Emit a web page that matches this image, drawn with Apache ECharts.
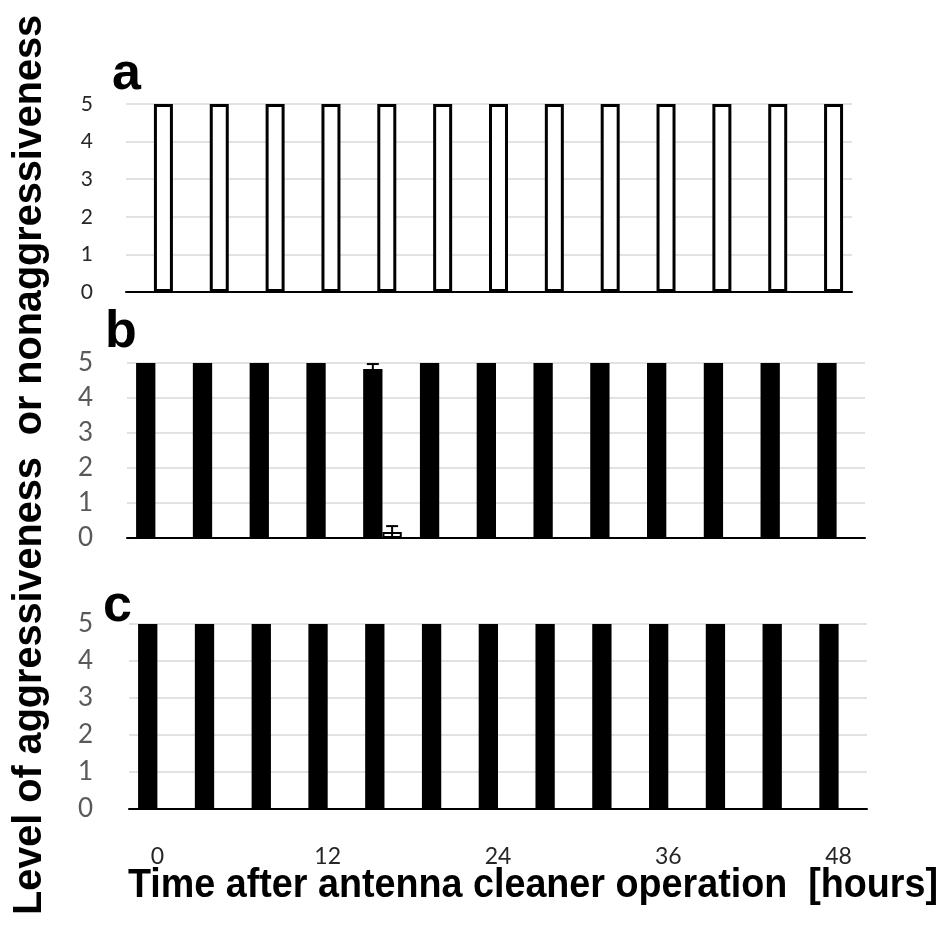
<!DOCTYPE html>
<html>
<head>
<meta charset="utf-8">
<script src="https://cdn.jsdelivr.net/npm/echarts@6/dist/echarts.min.js"></script>
<style>
html,body{margin:0;padding:0;background:#fff;}
#main{width:943px;height:928px;}
</style>
</head>
<body>
<div id="main"></div>
<script>
// ---- data ----
const categories = ['0','4','8','12','16','20','24','28','32','36','40','44','48'];
const xTickLabels = ['0','12','24','36','48'];
const yTicks = [0,1,2,3,4,5];
const panelLetters = ['a','b','c'];

const aAggressive    = [0,0,0,0,0,0,0,0,0,0,0,0,0];
const aNonaggressive = [5,5,5,5,5,5,5,5,5,5,5,5,5];

const bAggressive       = [5,5,5,5,4.83,5,5,5,5,5,5,5,5];
const bAggressiveErr    = [0,0,0,0,0.14,0,0,0,0,0,0,0,0];
const bNonaggressive    = [0,0,0,0,0.17,0,0,0,0,0,0,0,0];
const bNonaggressiveErr = [0,0,0,0,0.17,0,0,0,0,0,0,0,0];

const cAggressive    = [5,5,5,5,5,5,5,5,5,5,5,5,5];
const cNonaggressive = [0,0,0,0,0,0,0,0,0,0,0,0,0];

const xTitle = 'Time after antenna cleaner operation  [hours]';
const yTitle = 'Level of aggressiveness  or nonaggressiveness';

// ---- chart ----
const chart = echarts.init(document.getElementById('main'), null, {renderer:'canvas'});

function fitScale(text, font, target){
  const ctx = document.createElement('canvas').getContext('2d');
  ctx.font = font;
  return target / ctx.measureText(text).width;
}
const titleFont = 'bold 40px "Liberation Sans", Arial, sans-serif';
const xScale = fitScale(xTitle, titleFont, 810);
const yScale = fitScale(yTitle, titleFont, 900);

const grids = [
  {left:126, right:91, top:104, height:188},
  {left:127, right:78, top:363, height:175},
  {left:129, right:76, top:624, height:185}
].map(g => Object.assign({outerBoundsMode:'none', containLabel:false}, g));

const yLabelStyles = [
  {fontSize:21, color:'#262626', margin:33},
  {fontSize:26, color:'#595959', margin:34},
  {fontSize:26, color:'#595959', margin:36}
];

const xAxes = grids.map((g,i)=>({
  gridIndex:i, type:'category', data:categories,
  axisLine:{show:true, lineStyle:{color:'#000', width:2}},
  axisTick:{show:false},
  splitLine:{show:false},
  axisLabel:{
    show: i===2, interval:0, margin:36,
    fontFamily:'Lato', fontSize:23, color:'#262626',
    formatter: v => xTickLabels.indexOf(v) >= 0 ? v : ''
  }
}));

const yAxes = grids.map((g,i)=>({
  gridIndex:i, type:'value',
  min:yTicks[0], max:yTicks[yTicks.length-1], interval:yTicks[1]-yTicks[0],
  axisLine:{show:false}, axisTick:{show:false},
  splitLine:{show:true, lineStyle:{color:'#e2e2e2', width:2}},
  axisLabel:{fontFamily:'Lato', fontSize:yLabelStyles[i].fontSize, color:yLabelStyles[i].color, margin:yLabelStyles[i].margin}
}));

function barPair(i, aggr, non, borderW){
  return [
    {type:'bar', xAxisIndex:i, yAxisIndex:i, data:aggr, barWidth:'34%', barGap:'0%',
     itemStyle:{color:'#000'}, silent:true, animation:false},
    {type:'bar', xAxisIndex:i, yAxisIndex:i, data:non, barWidth:'34%', barGap:'0%',
     itemStyle:{color:'#fff', borderColor:'#000', borderWidth:borderW}, silent:true, animation:false}
  ];
}

// error bar items for panel b: [categoryIndex, value, error, side(-1 black, +1 white)]
const errItems = [];
bAggressive.forEach((v,k)=>{ if(bAggressiveErr[k]>0) errItems.push([k, v, bAggressiveErr[k], -1]); });
bNonaggressive.forEach((v,k)=>{ if(bNonaggressiveErr[k]>0) errItems.push([k, v, bNonaggressiveErr[k], 1]); });

const errSeries = {
  type:'custom', xAxisIndex:1, yAxisIndex:1, data:errItems, z:10, silent:true, animation:false,
  renderItem:(params, api)=>{
    const idx = api.value(0), v = api.value(1), e = api.value(2), side = api.value(3);
    const band = api.size([1,0])[0];
    const cx = api.coord([idx, v])[0] + side*band*0.17;
    const yTop = api.coord([idx, v+e])[1];
    const yBot = api.coord([idx, Math.max(0, v-e)])[1];
    const hw = 6;
    const st = {stroke:'#000', lineWidth:2};
    return {type:'group', children:[
      {type:'line', shape:{x1:cx, y1:yTop, x2:cx, y2:yBot}, style:st},
      {type:'line', shape:{x1:cx-hw, y1:yTop, x2:cx+hw, y2:yTop}, style:st},
      {type:'line', shape:{x1:cx-hw, y1:yBot, x2:cx+hw, y2:yBot}, style:st}
    ]};
  }
};

const letterPos = [[112, 101], [105, 359], [103, 633]];
const letterFont = 'bold 52px "Liberation Sans", Arial, sans-serif';

const graphics = panelLetters.map((t,i)=>({
  type:'text', x:letterPos[i][0], y:letterPos[i][1], silent:true,
  style:{text:t, font:letterFont, fill:'#000', align:'left', verticalAlign:'bottom', textAlign:'left', textVerticalAlign:'bottom'}
}));
graphics.push({
  type:'text', x:533, y:886, scaleX:xScale, silent:true,
  style:{text:xTitle, font:titleFont, fill:'#000', align:'center', verticalAlign:'middle', textAlign:'center', textVerticalAlign:'middle'}
});
graphics.push({
  type:'text', x:30, y:465, rotation:Math.PI/2, scaleX:yScale, silent:true,
  style:{text:yTitle, font:titleFont, fill:'#000', align:'center', verticalAlign:'middle', textAlign:'center', textVerticalAlign:'middle'}
});

chart.setOption({
  backgroundColor:'#fff',
  animation:false,
  grid:grids,
  xAxis:xAxes,
  yAxis:yAxes,
  series:[]
    .concat(barPair(0, aAggressive, aNonaggressive, 3))
    .concat(barPair(1, bAggressive, bNonaggressive, 2))
    .concat(barPair(2, cAggressive, cNonaggressive, 2))
    .concat([errSeries]),
  graphic:graphics
});
</script>
</body>
</html>
